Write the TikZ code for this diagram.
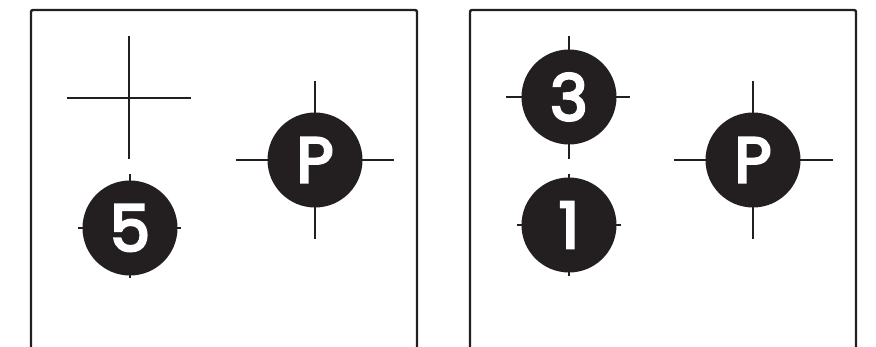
\documentclass[tikz,border=0pt]{standalone}
\usepackage{fontspec}
\newfontfamily\markfont{Poppins}[FakeBold=4]
\usepackage{tikz}
\usetikzlibrary{calc,positioning}
\definecolor{MarkInk}{HTML}{231F20}

\begin{document}
\begin{tikzpicture}[x=1pt,y=-1pt,
    frame/.style={draw=MarkInk,line width=2.4pt,rounded corners=2pt},
    hair/.style={draw=MarkInk,line width=1.8pt},
    marker/.style={circle,fill=MarkInk,text=white,minimum size=95pt,inner sep=0pt,
      font=\markfont\fontsize{64}{64}\selectfont}
  ]
  \useasboundingbox (0,0) rectangle (876,347);
  % panels, open at the bottom
  \begin{scope}
    \clip (0,0) rectangle (876,347);
    \draw[frame] (31,360) -- (31,10) -- (417,10) -- (417,360);
    \draw[frame] (470,360) -- (470,10) -- (856,10) -- (856,360);
  \end{scope}
  % left panel
  \coordinate (aim) at (129,98);
  \draw[hair] ($(aim)+(-62,0)$) -- ($(aim)+(62,0)$);
  \draw[hair] ($(aim)+(0,-62)$) -- ($(aim)+(0,61)$);
  \coordinate (c5) at (130,228);
  \draw[hair] ($(c5)+(-52,0)$) -- ($(c5)+(51,0)$);
  \draw[hair] ($(c5)+(0,-54)$) -- ($(c5)+(0,50)$);
  \node[marker] (five) at (c5) {5};
  \coordinate (cp1) at (315,160);
  \draw[hair] ($(cp1)+(-79,0)$) -- ($(cp1)+(79,0)$);
  \draw[hair] ($(cp1)+(0,-79)$) -- ($(cp1)+(0,79)$);
  \node[marker] (parkA) at (cp1) {P};
  % right panel
  \coordinate (c3) at (569,97);
  \draw[hair] ($(c3)+(-63,0)$) -- ($(c3)+(61,0)$);
  \draw[hair] ($(c3)+(0,-61)$) -- ($(c3)+(0,62)$);
  \node[marker] (three) at (c3) {3};
  \coordinate (c1) at (569,225);
  \draw[hair] ($(c1)+(-52,0)$) -- ($(c1)+(52,0)$);
  \draw[hair] ($(c1)+(0,-51)$) -- ($(c1)+(0,51)$);
  \node[marker] (one) at (c1) {1};
  \coordinate (cp2) at (753,160);
  \draw[hair] ($(cp2)+(-79,0)$) -- ($(cp2)+(80,0)$);
  \draw[hair] ($(cp2)+(0,-79)$) -- ($(cp2)+(0,79)$);
  \node[marker] (parkB) at (cp2) {P};
\end{tikzpicture}
\end{document}
